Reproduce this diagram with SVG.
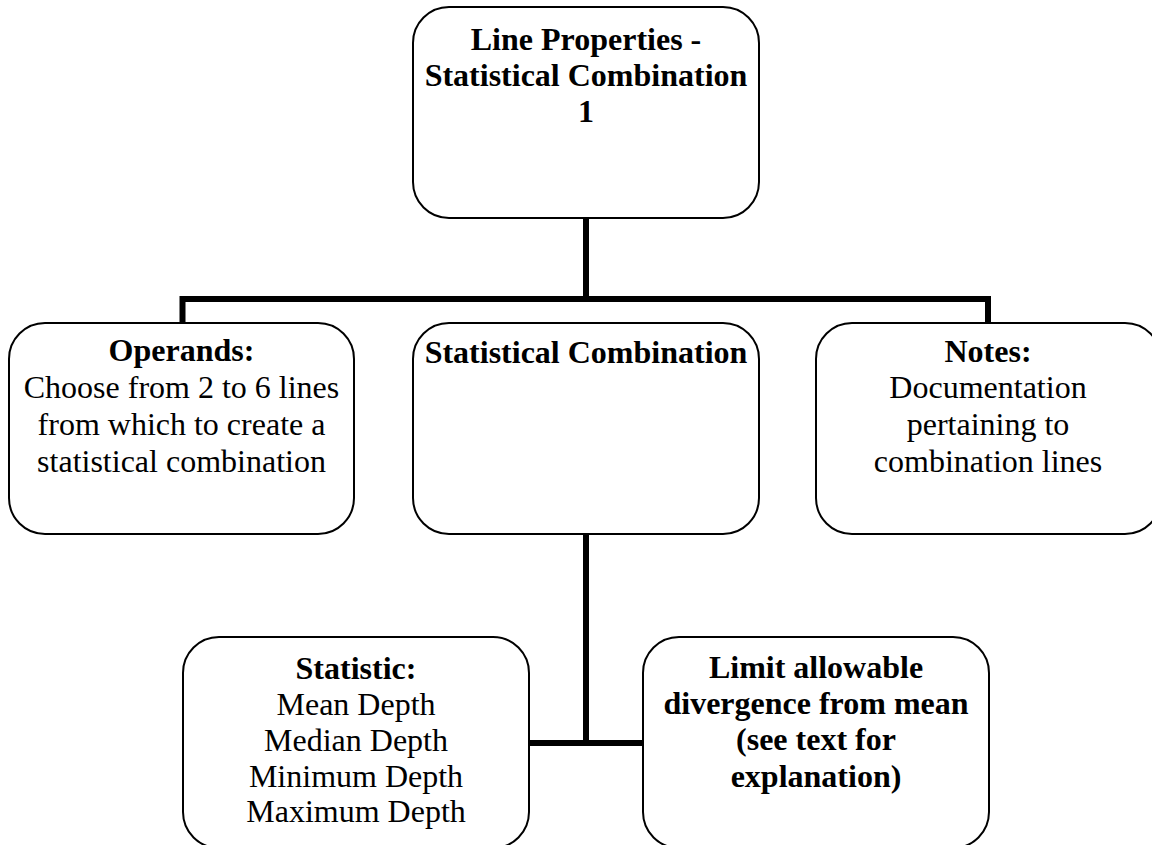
<svg xmlns="http://www.w3.org/2000/svg" width="1152" height="845" viewBox="0 0 1152 845">
<style>
.box{fill:#fff;stroke:#000;stroke-width:2}
.t{font-family:"Liberation Serif","Times New Roman",serif;font-size:32px;fill:#000;text-anchor:middle}
.b{font-weight:bold}
.c{fill:none;stroke:#000;stroke-width:6}
</style>
<rect width="1152" height="845" fill="#fff"/>
<g id="connectors">
<path class="c" d="M586 218 V299 M182.5 323 V299 H988 V323"/>
<path class="c" d="M586 534 V743 M529 743 H643"/>
</g>
<g id="n-root">
<rect class="box" x="413" y="7" width="346" height="211" rx="36"/>
<text class="t b" x="586" y="50">Line Properties -</text>
<text class="t b" x="586" y="86">Statistical Combination</text>
<text class="t b" x="586" y="122">1</text>
</g>
<g id="n-operands">
<rect class="box" x="9" y="323" width="345" height="211" rx="36"/>
<text class="t b" x="181.5" y="361">Operands:</text>
<text class="t" x="181.5" y="398">Choose from 2 to 6 lines</text>
<text class="t" x="181.5" y="435">from which to create a</text>
<text class="t" x="181.5" y="472">statistical combination</text>
</g>
<g id="n-statcomb">
<rect class="box" x="413" y="323" width="346" height="211" rx="36"/>
<text class="t b" x="586" y="363">Statistical Combination</text>
</g>
<g id="n-notes">
<rect class="box" x="816" y="323" width="345" height="211" rx="36"/>
<text class="t b" x="988" y="362">Notes:</text>
<text class="t" x="988" y="398">Documentation</text>
<text class="t" x="988" y="435">pertaining to</text>
<text class="t" x="988" y="472">combination lines</text>
</g>
<g id="n-statistic">
<rect class="box" x="183" y="637" width="346" height="211" rx="36"/>
<text class="t b" x="356" y="679">Statistic:</text>
<text class="t" x="356" y="715">Mean Depth</text>
<text class="t" x="356" y="751">Median Depth</text>
<text class="t" x="356" y="787">Minimum Depth</text>
<text class="t" x="356" y="822">Maximum Depth</text>
</g>
<g id="n-limit">
<rect class="box" x="643" y="637" width="346" height="211" rx="36"/>
<text class="t b" x="816" y="678">Limit allowable</text>
<text class="t b" x="816" y="714">divergence from mean</text>
<text class="t b" x="816" y="750">(see text for</text>
<text class="t b" x="816" y="787">explanation)</text>
</g>
</svg>
